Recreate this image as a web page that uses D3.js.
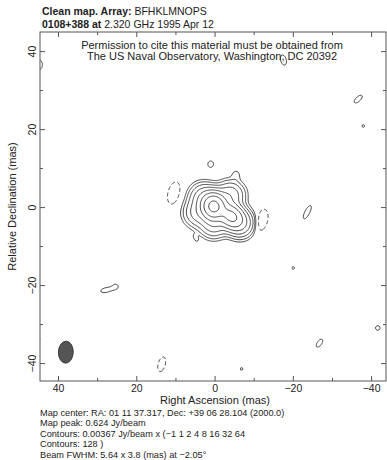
<!DOCTYPE html>
<html>
<head>
<meta charset="utf-8">
<script src="https://cdn.jsdelivr.net/npm/d3@7"></script>
<style>
body { margin: 0; background: #fff; }
text { font-family: "Liberation Sans", Arial, sans-serif; fill: #222; }
</style>
</head>
<body>
<div id="chart"></div>
<script>
let width = 387;
let height = 460;
let frame = { left: 40, right: 386, top: 32, bottom: 381 };

// contour levels: base x multipliers
let baseLevel = 0.00367;
let levelMultipliers = [-1, 1, 2, 4, 8, 16, 32, 64, 128];

// clean components (mas, Jy/beam, sigma in mas, PA deg)
let compRA    = [0.2, -4.2, 2.8, -4.0, -6.5, 0.2, 4.3, -5.5, 4.8, 1.0, -23.7, -36.7, -38.0, -26.8, -41.7, 27.8, 25.2, -20.1, -6.9, -17.6, 44.8, 45.3, 10.4, -12.0, 13.5];
let compDec   = [0.2, -2.3, 2.5, 3.0, -4.2, -4.2, -1.5, 8.3, -8.0, 11.0, -1.3, 27.7, 20.8, -34.9, -31.0, -21.3, -20.3, -15.6, -41.5, 37.7, 36.5, -33.8, 3.6, -3.5, -40.3];
let compPeak  = [0.59, 0.27, 0.05, 0.05, 0.06, 0.05, 0.04, 0.005, 0.005, 0.0055, 0.0055, 0.0055, 0.0039, 0.0055, 0.0048, 0.0055, 0.0039, 0.0039, 0.0039, 0.0055, 0.0055, 0.0055, -0.0075, -0.009, -0.0065];
let compMaj   = [1.8, 1.9, 2.0, 2.0, 2.0, 2.0, 2.0, 1.0, 0.9, 0.9, 2.1, 1.45, 1.0, 1.3, 0.8, 1.45, 1.0, 1.0, 1.0, 1.5, 1.4, 0.7, 2.45, 2.3, 1.8];
let compMin   = [1.65, 1.6, 2.0, 2.0, 2.0, 2.0, 2.0, 0.8, 0.5, 0.8, 0.7, 0.65, 1.0, 0.65, 0.8, 0.65, 1.0, 1.0, 1.0, 0.8, 0.9, 0.7, 1.26, 1.15, 0.85];
let compPA    = [0, 50, 0, 0, 0, 0, 0, 0, 30, 0, -27, -47, 0, -35, 0, -78, 0, 0, 0, 15, 0, 0, -15, -15, -15];

// restoring beam
let beamMajor = 5.64, beamMinor = 3.8, beamPA = -2.05;
let beamRA = 38.0, beamDec = -37.2;

let majorTicks = [40, 20, 0, -20, -40];
let minorTicks = [30, 10, -10, -30];

let titleBold = ["Clean map.  Array:", "0108+388 at"];
let titleRest = ["BFHKLMNOPS", "2.320 GHz 1995 Apr 12"];
let permissionLines = ["Permission to cite this material must be obtained from",
    "The US Naval Observatory, Washington, DC 20392"];
let footerLines = ["Map center:  RA: 01 11 37.317,  Dec: +39 06 28.104 (2000.0)",
    "Map peak: 0.624 Jy/beam",
    "Contours: 0.00367 Jy/beam x (\u22121 1 2 4 8 16 32 64",
    "Contours: 128 )",
    "Beam FWHM: 5.64 x 3.8 (mas) at \u22122.05\u00b0"];

let svg = d3.select("#chart").append("svg")
    .attr("width", width)
    .attr("height", height);

let x = d3.scaleLinear().domain([44.6, -43.8]).range([frame.left, frame.right]);
let y = d3.scaleLinear().domain([44.9, -44.6]).range([frame.top, frame.bottom]);

// model image on a grid
let gridStep = 0.25, gridHalf = 50;
let nGrid = Math.round(2 * gridHalf / gridStep) + 1;
let values = new Float64Array(nGrid * nGrid);
let comps = compRA.map((ra, k) => {
    let t = compPA[k] * Math.PI / 180;
    return { ra: ra, dec: compDec[k], a: compPeak[k], sj: compMaj[k], sn: compMin[k], s: Math.sin(t), c: Math.cos(t) };
});
for (let j = 0; j < nGrid; j++) {
    let dec = gridHalf - j * gridStep;
    for (let i = 0; i < nGrid; i++) {
        let ra = gridHalf - i * gridStep;
        let v = 0;
        comps.forEach(function (p) {
            let dx = ra - p.ra, dy = dec - p.dec;
            let along = dx * p.s + dy * p.c;
            let across = dx * p.c - dy * p.s;
            let q = (along * along) / (p.sj * p.sj) + (across * across) / (p.sn * p.sn);
            if (q < 60) v += p.a * Math.exp(-0.5 * q);
        });
        values[j * nGrid + i] = v;
    }
}
let negValues = values.map(v => -v);

let posLevels = levelMultipliers.filter(m => m > 0).map(m => m * baseLevel);
let negLevels = levelMultipliers.filter(m => m < 0).map(m => -m * baseLevel);

let toScreen = d3.geoTransform({
    point: function (gx, gy) {
        this.stream.point(x(gridHalf - (gx - 0.5) * gridStep), y(gridHalf - (gy - 0.5) * gridStep));
    }
});
let path = d3.geoPath(toScreen);

svg.append("clipPath").attr("id", "plotclip")
    .append("rect")
    .attr("x", frame.left).attr("y", frame.top)
    .attr("width", frame.right - frame.left).attr("height", frame.bottom - frame.top);

let plot = svg.append("g").attr("clip-path", "url(#plotclip)");

plot.selectAll("path.pos")
    .data(d3.contours().size([nGrid, nGrid]).thresholds(posLevels)(values))
    .enter().append("path")
    .attr("class", "pos")
    .attr("d", path)
    .attr("fill", "none")
    .attr("stroke", "#333")
    .attr("stroke-width", 0.9);

plot.selectAll("path.neg")
    .data(d3.contours().size([nGrid, nGrid]).thresholds(negLevels)(negValues))
    .enter().append("path")
    .attr("class", "neg")
    .attr("d", path)
    .attr("fill", "none")
    .attr("stroke", "#333")
    .attr("stroke-width", 0.9)
    .attr("stroke-dasharray", "4,2.5");

// beam
plot.append("ellipse")
    .attr("cx", x(beamRA))
    .attr("cy", y(beamDec))
    .attr("rx", Math.abs(x(beamMinor / 2) - x(0)))
    .attr("ry", Math.abs(y(beamMajor / 2) - y(0)))
    .attr("transform", "rotate(" + (-beamPA) + "," + x(beamRA) + "," + y(beamDec) + ")")
    .attr("fill", "#555")
    .attr("stroke", "#222")
    .attr("stroke-width", 0.8);

// axes, ticks inward on all four sides
function styleAxis(g) {
    g.select(".domain").remove();
    g.selectAll(".tick line").attr("stroke", "#555");
    g.selectAll(".tick text").style("font-size", "10.5px").attr("fill", "#222");
}
let fmt = d => d3.format("d")(d).replace("-", "\u2212");
svg.append("g").attr("transform", "translate(0," + frame.bottom + ")")
    .call(d3.axisBottom(x).tickValues(majorTicks).tickSize(-5).tickPadding(4).tickFormat(fmt))
    .call(styleAxis);
svg.append("g").attr("transform", "translate(0," + frame.bottom + ")")
    .call(d3.axisBottom(x).tickValues(minorTicks).tickSize(-3).tickFormat(""))
    .call(styleAxis);
svg.append("g").attr("transform", "translate(0," + frame.top + ")")
    .call(d3.axisTop(x).tickValues(majorTicks).tickSize(-5).tickFormat(""))
    .call(styleAxis);
svg.append("g").attr("transform", "translate(0," + frame.top + ")")
    .call(d3.axisTop(x).tickValues(minorTicks).tickSize(-3).tickFormat(""))
    .call(styleAxis);
svg.append("g").attr("transform", "translate(" + frame.left + ",0)")
    .call(d3.axisLeft(y).tickValues(majorTicks).tickSize(-5).tickFormat(fmt))
    .call(styleAxis)
    .selectAll(".tick text")
    .attr("transform", "rotate(-90)")
    .attr("x", 0)
    .attr("y", -4)
    .attr("dy", 0)
    .attr("text-anchor", "middle");
svg.append("g").attr("transform", "translate(" + frame.left + ",0)")
    .call(d3.axisLeft(y).tickValues(minorTicks).tickSize(-3).tickFormat(""))
    .call(styleAxis);
svg.append("g").attr("transform", "translate(" + frame.right + ",0)")
    .call(d3.axisRight(y).tickValues(majorTicks).tickSize(-5).tickFormat(""))
    .call(styleAxis);
svg.append("g").attr("transform", "translate(" + frame.right + ",0)")
    .call(d3.axisRight(y).tickValues(minorTicks).tickSize(-3).tickFormat(""))
    .call(styleAxis);

svg.append("rect")
    .attr("x", frame.left).attr("y", frame.top)
    .attr("width", frame.right - frame.left).attr("height", frame.bottom - frame.top)
    .attr("fill", "none")
    .attr("stroke", "#555")
    .attr("stroke-width", 1);

// titles
titleBold.forEach(function (t, i) {
    let line = svg.append("text")
        .attr("x", 42)
        .attr("y", 15 + i * 12.5)
        .style("font-size", "10.5px");
    line.append("tspan").style("font-weight", "bold").text(t + " ");
    line.append("tspan").text(titleRest[i]);
});

svg.selectAll("text.perm").data(permissionLines)
    .enter().append("text")
    .attr("class", "perm")
    .attr("x", (frame.left + frame.right) / 2 - 1)
    .attr("y", (d, i) => 48.5 + i * 11)
    .attr("text-anchor", "middle")
    .style("font-size", "11px")
    .text(d => d);

svg.append("text")
    .attr("x", (frame.left + frame.right) / 2 + 2)
    .attr("y", 404)
    .attr("text-anchor", "middle")
    .style("font-size", "11px")
    .text("Right Ascension  (mas)");

svg.append("text")
    .attr("transform", "translate(16," + ((frame.top + frame.bottom) / 2) + ") rotate(-90)")
    .attr("text-anchor", "middle")
    .style("font-size", "11px")
    .text("Relative Declination  (mas)");

svg.selectAll("text.foot").data(footerLines)
    .enter().append("text")
    .attr("class", "foot")
    .attr("x", 40)
    .attr("y", (d, i) => 415.5 + i * 10.5)
    .style("font-size", "9.2px")
    .text(d => d);
</script>
</body>
</html>
